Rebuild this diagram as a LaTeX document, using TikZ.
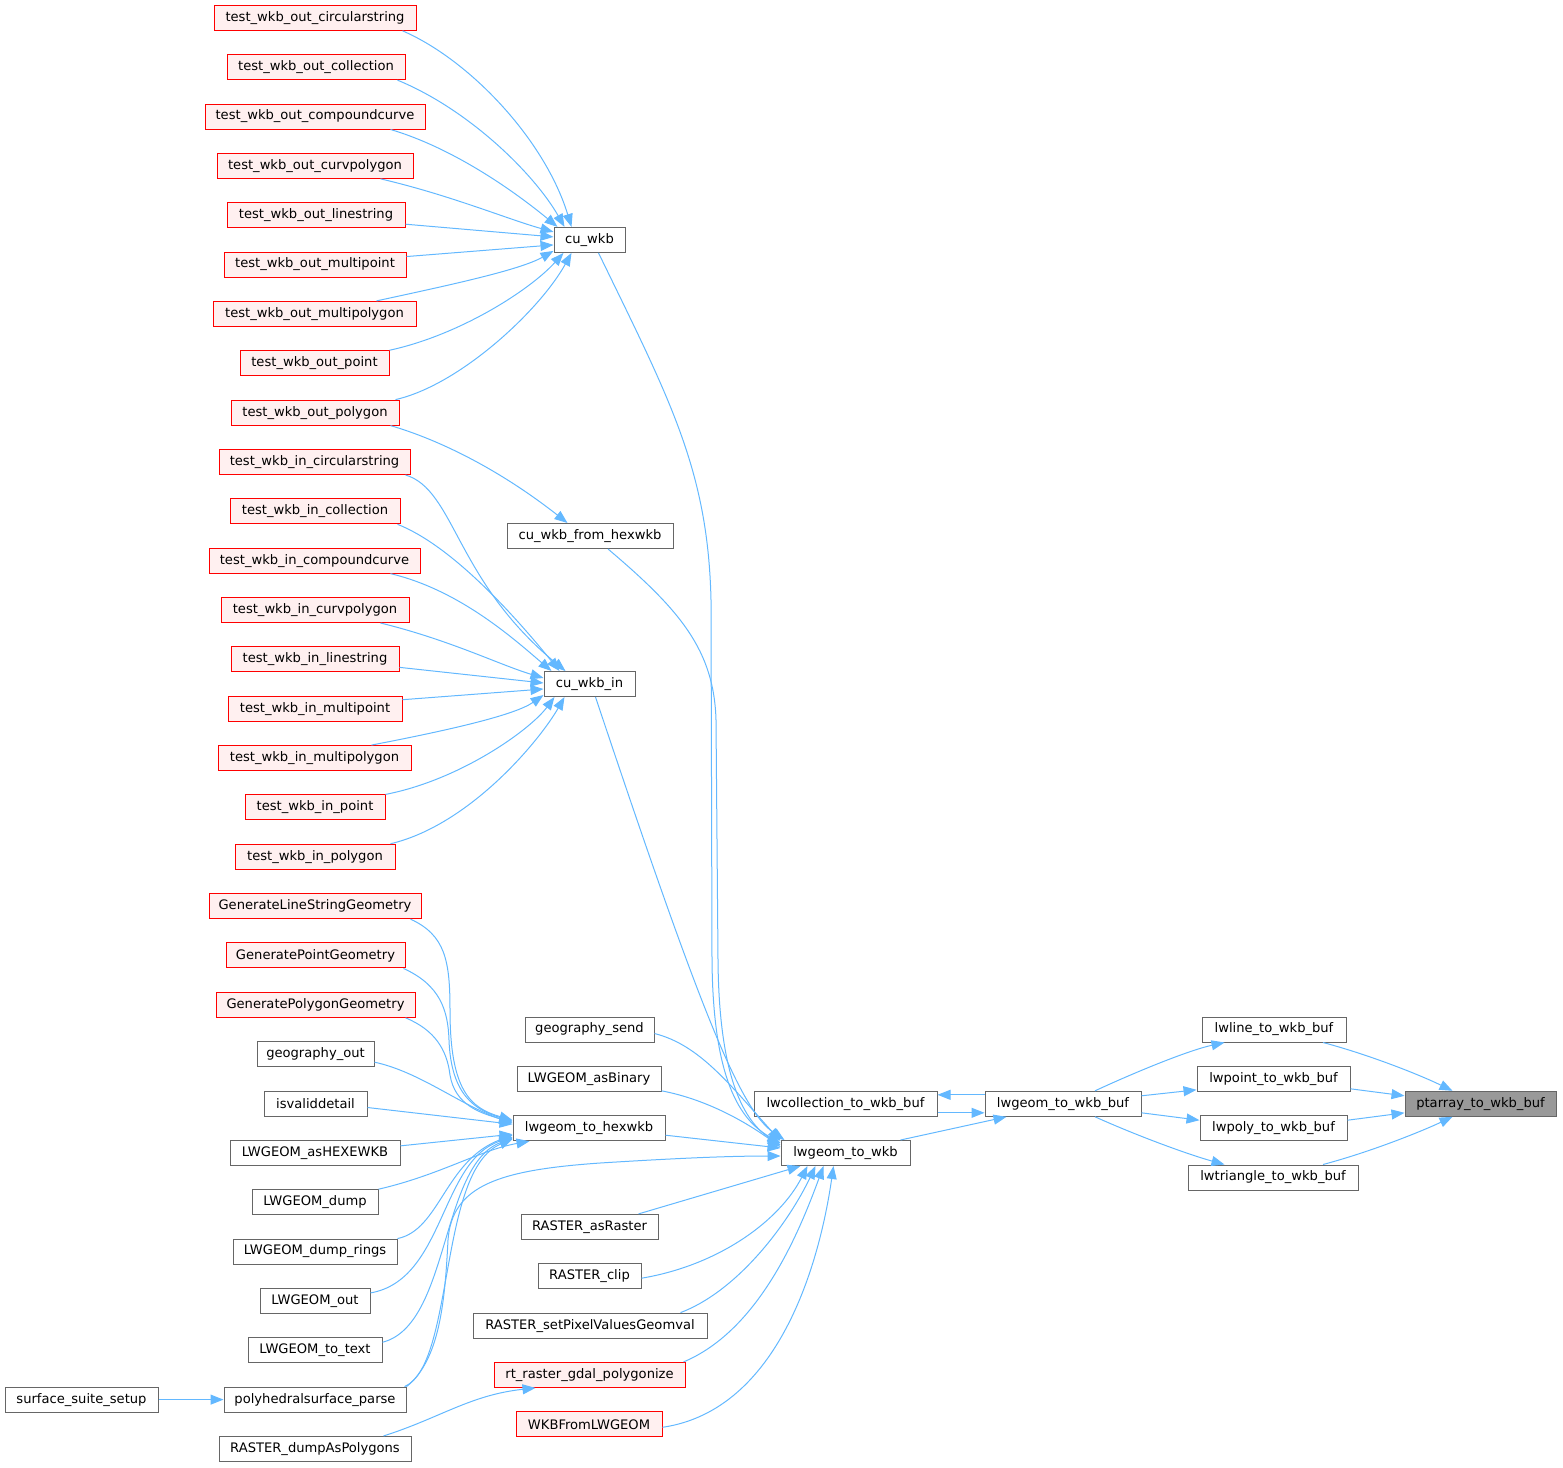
\documentclass[tikz,border=0pt]{standalone}
\usepackage{fontspec}
\setmainfont{DejaVu Sans}
\usetikzlibrary{arrows.meta}
\definecolor{edgeblue}{HTML}{63B8FF}
\definecolor{boxgray}{HTML}{666666}
\definecolor{redfill}{HTML}{FFF0F0}
\definecolor{selfill}{HTML}{999999}
\tikzset{
  bx/.style={draw=boxgray, fill=white, line width=1pt, minimum height=25pt, inner sep=0pt,
    font=\fontsize{13.1}{15}\selectfont},
  rb/.style={bx, draw=red, fill=redfill},
  sb/.style={bx, fill=selfill},
  e/.style={draw=edgeblue, line width=1pt, -{Triangle[length=13pt,width=10pt]}}
}
\begin{document}
\begin{tikzpicture}[x=1pt,y=-1pt]
\useasboundingbox (0,0) rectangle (1563,1467);
% left column
\node[rb, minimum width=202pt] (o1) at (315,17.8) {test\_wkb\_out\_circularstring};
\node[rb, minimum width=178pt] (o2) at (316,67.15) {test\_wkb\_out\_collection};
\node[rb, minimum width=220pt] (o3) at (315,116.5) {test\_wkb\_out\_compoundcurve};
\node[rb, minimum width=196pt] (o4) at (315,165.85) {test\_wkb\_out\_curvpolygon};
\node[rb, minimum width=178pt] (o5) at (316,215.2) {test\_wkb\_out\_linestring};
\node[rb, minimum width=182pt] (o6) at (315,264.55) {test\_wkb\_out\_multipoint};
\node[rb, minimum width=203pt] (o7) at (314.5,313.9) {test\_wkb\_out\_multipolygon};
\node[rb, minimum width=149pt] (o8) at (314.5,363.25) {test\_wkb\_out\_point};
\node[rb, minimum width=168pt] (o9) at (315,412.6) {test\_wkb\_out\_polygon};
\node[rb, minimum width=191pt] (i1) at (314.5,461.95) {test\_wkb\_in\_circularstring};
\node[rb, minimum width=170pt] (i2) at (315,511.3) {test\_wkb\_in\_collection};
\node[rb, minimum width=211pt] (i3) at (314.5,560.65) {test\_wkb\_in\_compoundcurve};
\node[rb, minimum width=188pt] (i4) at (315,610) {test\_wkb\_in\_curvpolygon};
\node[rb, minimum width=168pt] (i5) at (315,659.35) {test\_wkb\_in\_linestring};
\node[rb, minimum width=174pt] (i6) at (315,708.7) {test\_wkb\_in\_multipoint};
\node[rb, minimum width=193pt] (i7) at (314.5,758.05) {test\_wkb\_in\_multipolygon};
\node[rb, minimum width=140pt] (i8) at (315,807.4) {test\_wkb\_in\_point};
\node[rb, minimum width=160pt] (i9) at (315,856.75) {test\_wkb\_in\_polygon};
\node[rb, minimum width=212pt] (g1) at (315,906.1) {GenerateLineStringGeometry};
\node[rb, minimum width=179pt] (g2) at (315.5,955.45) {GeneratePointGeometry};
\node[rb, minimum width=199pt] (g3) at (315.5,1004.8) {GeneratePolygonGeometry};
\node[bx, minimum width=117pt] (geoout) at (315.5,1054.15) {geography\_out};
\node[bx, minimum width=103pt] (isvalid) at (315.5,1103.5) {isvaliddetail};
\node[bx, minimum width=170pt] (ashex) at (315,1152.85) {LWGEOM\_asHEXEWKB};
\node[bx, minimum width=126pt] (dump) at (315,1202.2) {LWGEOM\_dump};
\node[bx, minimum width=164pt] (dumprings) at (315,1251.55) {LWGEOM\_dump\_rings};
\node[bx, minimum width=110pt] (lwout) at (315,1300.9) {LWGEOM\_out};
\node[bx, minimum width=134pt] (totext) at (315,1350.25) {LWGEOM\_to\_text};
\node[bx, minimum width=182pt] (poly) at (315,1399.6) {polyhedralsurface\_parse};
\node[bx, minimum width=192pt] (dumpas) at (315,1448.95) {RASTER\_dumpAsPolygons};
\node[bx, minimum width=153pt] (surface) at (81.5,1399.6) {surface\_suite\_setup};
% middle column
\node[bx, minimum width=71pt] (cuwkb) at (589.5,239.9) {cu\_wkb};
\node[bx, minimum width=166pt] (cufrom) at (590,535.98) {cu\_wkb\_from\_hexwkb};
\node[bx, minimum width=91pt] (cuin) at (589.5,684) {cu\_wkb\_in};
\node[bx, minimum width=129pt] (gsend) at (589.5,1029.5) {geography\_send};
\node[bx, minimum width=144pt] (asbin) at (589,1078.8) {LWGEOM\_asBinary};
\node[bx, minimum width=152pt] (hexwkb) at (589,1128.2) {lwgeom\_to\_hexwkb};
\node[bx, minimum width=137pt] (asraster) at (589.5,1226.9) {RASTER\_asRaster};
\node[bx, minimum width=103pt] (clip) at (589.5,1276.2) {RASTER\_clip};
\node[bx, minimum width=234pt] (setpix) at (590,1325.6) {RASTER\_setPixelValuesGeomval};
\node[rb, minimum width=191pt] (rtgdal) at (589.5,1374.9) {rt\_raster\_gdal\_polygonize};
\node[rb, minimum width=146pt] (wkbfrom) at (589,1424.3) {WKBFromLWGEOM};
% right part
\node[bx, minimum width=183pt] (lwcoll) at (845.5,1103.8) {lwcollection\_to\_wkb\_buf};
\node[bx, minimum width=129pt] (lwwkb) at (845.5,1153) {lwgeom\_to\_wkb};
\node[bx, minimum width=156pt] (lwbuf) at (1063,1103.8) {lwgeom\_to\_wkb\_buf};
\node[bx, minimum width=144pt] (lwline) at (1274,1029.5) {lwline\_to\_wkb\_buf};
\node[bx, minimum width=153pt] (lwpoint) at (1273.5,1078.8) {lwpoint\_to\_wkb\_buf};
\node[bx, minimum width=147pt] (lwpoly) at (1273.5,1128.2) {lwpoly\_to\_wkb\_buf};
\node[bx, minimum width=170pt] (lwtri) at (1273,1177.5) {lwtriangle\_to\_wkb\_buf};
\node[sb, minimum width=151pt] (ptarray) at (1480.5,1103.8) {ptarray\_to\_wkb\_buf};

% edges into cu_wkb
\draw[e] ([xshift=-14pt]o1.south east) .. controls (470,60) and (545,140) .. ([xshift=18pt]cuwkb.north west);
\draw[e] ([xshift=-8pt]o2.south east) .. controls (470,110) and (535,175) .. ([xshift=11pt]cuwkb.north west);
\draw[e] ([xshift=-35pt]o3.south east) .. controls (460,150) and (525,200) .. ([xshift=4pt]cuwkb.north west);
\draw[e] ([xshift=-33pt]o4.south east) .. controls (450,195) and (510,220) .. ([yshift=-5pt]cuwkb.north west);
\draw[e] ([yshift=-9pt]o5.east) -- ([yshift=3pt]cuwkb.west);
\draw[e] ([yshift=8pt]o6.east) -- ([yshift=-5pt]cuwkb.west);
\draw[e] ([xshift=-40pt]o7.north east) .. controls (450,285) and (520,270) .. ([yshift=2pt]cuwkb.south west);
\draw[e] (o8.north east) .. controls (460,335) and (530,290) .. ([xshift=10pt]cuwkb.south west);
\draw[e] ([xshift=-4pt]o9.north east) .. controls (460,385) and (540,310) .. ([xshift=18pt]cuwkb.south west);
\draw[e] ([xshift=-9pt]o9.south east) .. controls (440,440) and (500,470) .. ([xshift=61pt]cufrom.north west);
% edges into cu_wkb_in
\draw[e] ([xshift=-5pt]i1.south east) .. controls (455,490) and (455,580) .. ([xshift=22pt]cuin.north west);
\draw[e] ([xshift=-3pt]i2.south east) .. controls (450,545) and (510,610) .. ([xshift=16pt]cuin.north west);
\draw[e] ([xshift=-30pt]i3.south east) .. controls (460,590) and (515,640) .. ([xshift=8pt]cuin.north west);
\draw[e] ([xshift=-29pt]i4.south east) .. controls (450,640) and (500,665) .. ([yshift=6pt]cuin.west);
\draw[e] ([yshift=-8pt]i5.east) -- ([yshift=1pt]cuin.west);
\draw[e] ([yshift=9pt]i6.east) -- ([yshift=-5pt]cuin.west);
\draw[e] ([xshift=-40pt]i7.north east) .. controls (450,730) and (515,715) .. ([yshift=2pt]cuin.south west);
\draw[e] (i8.north east) .. controls (460,780) and (530,730) .. ([xshift=11pt]cuin.south west);
\draw[e] ([xshift=-5pt]i9.north east) .. controls (470,825) and (540,740) .. ([xshift=21pt]cuin.south west);
% long edges into lwgeom_to_wkb
\draw[e] ([xshift=9pt]cuwkb.south) .. controls (670,400) and (708,470) .. (711,600) -- (712,960) .. controls (713,1080) and (740,1120) .. ([yshift=-3pt]lwwkb.north west);
\draw[e] ([xshift=18pt]cufrom.south) .. controls (680,610) and (714,650) .. (716,720) -- (718,960) .. controls (719,1080) and (745,1122) .. ([yshift=-5pt]lwwkb.north west);
\draw[e] ([xshift=6pt]cuin.south) .. controls (700,1010) and (740,1110) .. ([xshift=4pt]lwwkb.north west);
\draw[e] ([yshift=-4pt]gsend.east) .. controls (700,1045) and (730,1085) .. ([yshift=-1pt]lwwkb.north west);
\draw[e] ([yshift=-12pt]asbin.east) .. controls (710,1100) and (750,1125) .. ([yshift=-7pt]lwwkb.north west);
\draw[e] ([yshift=-7pt]hexwkb.east) -- ([yshift=5pt]lwwkb.west);
\draw[e] (poly.north east) .. controls (440,1360) and (445,1300) .. (448,1240) .. controls (452,1185) and (500,1170) .. (600,1163) .. controls (680,1158) and (730,1156) .. ([yshift=-3pt]lwwkb.west);
\draw[e] ([xshift=-20pt]asraster.north east) -- ([xshift=20pt]lwwkb.south west);
\draw[e] ([yshift=-2pt]clip.east) .. controls (720,1265) and (780,1220) .. ([xshift=27pt]lwwkb.south west);
\draw[e] ([xshift=-27pt]setpix.north east) .. controls (740,1290) and (790,1220) .. ([xshift=35pt]lwwkb.south west);
\draw[e] ([xshift=-2pt]rtgdal.north east) .. controls (760,1330) and (800,1230) .. ([xshift=43pt]lwwkb.south west);
\draw[e] ([yshift=-3pt]wkbfrom.east) .. controls (780,1410) and (820,1260) .. ([xshift=53pt]lwwkb.south west);
% edges into lwgeom_to_hexwkb
\draw[e] ([xshift=-11pt]g1.south east) .. controls (445,935) and (450,960) .. (450,1010) .. controls (450,1090) and (470,1108) .. ([yshift=8pt]hexwkb.west);
\draw[e] ([xshift=-2pt]g2.south east) .. controls (440,985) and (448,1010) .. (449,1040) .. controls (451,1095) and (475,1110) .. ([yshift=7pt]hexwkb.west);
\draw[e] ([xshift=-10pt]g3.south east) .. controls (435,1030) and (447,1050) .. (450,1075) .. controls (455,1105) and (480,1113) .. ([yshift=6pt]hexwkb.west);
\draw[e] ([yshift=-8pt]geoout.east) .. controls (420,1072) and (460,1105) .. ([yshift=5pt]hexwkb.west);
\draw[e] ([yshift=-4pt]isvalid.east) -- ([yshift=4pt]hexwkb.west);
\draw[e] ([yshift=7pt]ashex.east) -- ([yshift=-6pt]hexwkb.west);
\draw[e] (dump.north east) .. controls (440,1175) and (480,1150) .. ([xshift=17pt]hexwkb.south west);
\draw[e] (dumprings.north east) .. controls (440,1230) and (445,1160) .. ([yshift=-7pt]hexwkb.west);
\draw[e] ([yshift=8pt]lwout.east) .. controls (445,1280) and (440,1160) .. ([yshift=-9pt]hexwkb.west);
\draw[e] ([yshift=8pt]totext.east) .. controls (450,1325) and (440,1165) .. ([yshift=-10pt]hexwkb.west);
\draw[e] ([xshift=-2pt]poly.north east) .. controls (455,1365) and (438,1170) .. ([yshift=-11pt]hexwkb.west);
% others
\draw[e] ([xshift=-28pt]dumpas.north east) .. controls (440,1418) and (470,1395) .. ([xshift=42pt]rtgdal.south west);
\draw[e] (surface) -- (poly);
\draw[e] ([xshift=-10pt]lwwkb.north east) -- ([xshift=22pt]lwbuf.south west);
\draw[e] ([yshift=9pt]lwbuf.west) -- ([yshift=9pt]lwcoll.east);
\draw[e] ([yshift=-9pt]lwcoll.east) -- ([yshift=-9pt]lwbuf.west);
\draw[e] ([xshift=32pt]lwbuf.north) .. controls (1140,1070) and (1190,1050) .. ([xshift=23pt]lwline.south west);
\draw[e] ([yshift=8pt]lwbuf.east) -- ([yshift=-11pt]lwpoint.west);
\draw[e] ([yshift=-9pt]lwbuf.east) -- ([yshift=8pt]lwpoly.west);
\draw[e] ([xshift=32pt]lwbuf.south) .. controls (1140,1137) and (1190,1155) .. ([xshift=37pt]lwtri.north west);
\draw[e] ([xshift=49pt]lwline.south) .. controls (1370,1055) and (1420,1075) .. ([xshift=48pt]ptarray.north west);
\draw[e] ([yshift=-10pt]lwpoint.east) -- ([yshift=8pt]ptarray.west);
\draw[e] ([yshift=8pt]lwpoly.east) -- ([yshift=-9pt]ptarray.west);
\draw[e] ([xshift=50pt]lwtri.north) .. controls (1370,1152) and (1420,1132) .. ([xshift=48pt]ptarray.south west);
\end{tikzpicture}
\end{document}
